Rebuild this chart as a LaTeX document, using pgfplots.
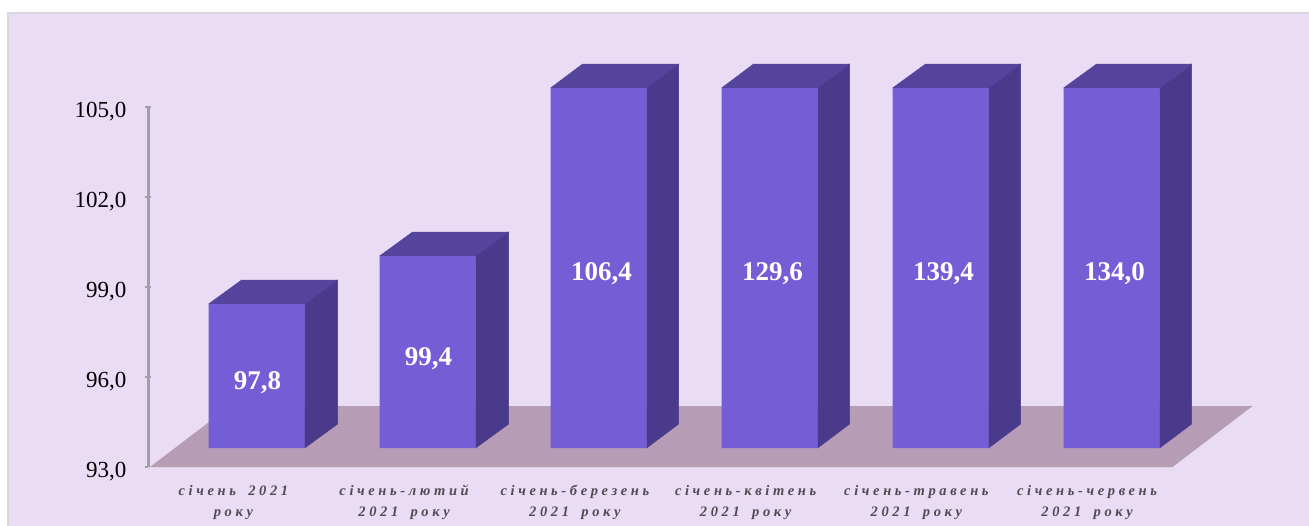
\documentclass[border=0pt]{standalone}
\usepackage{fontspec}
\setmainfont{Liberation Serif}
\newfontfamily\lab[LetterSpace=25,WordSpace=1.7]{Liberation Serif}
\usepackage{pgfplots}
\pgfplotsset{compat=1.18}
\definecolor{bg}{HTML}{EADCF5}
\definecolor{edge}{HTML}{DAD6DC}
\definecolor{front}{HTML}{755DD6}
\definecolor{side}{HTML}{4A3A8C}
\definecolor{topf}{HTML}{54449E}
\definecolor{floorc}{HTML}{B79CB6}
\definecolor{yax}{HTML}{A29EA6}
\definecolor{xlab}{HTML}{4F4B52}
\begin{document}
\begin{tikzpicture}
\useasboundingbox (0,0) rectangle (1309pt,526pt);
\fill[edge] (7pt,0) rectangle (1309pt,514pt);
\fill[bg] (9pt,0) rectangle (1309pt,512pt);
\begin{axis}[
  at={(148pt,59pt)}, anchor=south west,
  x=1pt, y=30pt,
  xmin=148, xmax=1172.5, ymin=93, ymax=105,
  clip=false,
  axis x line=bottom, axis y line=left,
  axis line style={-},
  x axis line style={draw=edge, line width=1.2pt},
  y axis line style={draw=yax, line width=3pt},
  ytick={93,96,99,102,105},
  y tick style={draw=yax, line width=1.6pt},
  y tick label style={font=\fontsize{23}{23}\selectfont, text=black, yshift=-5pt, xshift=-15pt,
     /pgf/number format/.cd, fixed, fixed zerofill, precision=1, use comma, assume math mode=true},
  major tick length=6pt,
  xtick={233.4,404.1,574.9,745.6,916.4,1087.1},
  xticklabels={{січень 2021\\року},{січень-лютий\\2021 року},{січень-березень\\2021 року},{січень-квітень\\2021 року},{січень-травень\\2021 року},{січень-червень\\2021 року}},
  x tick style={draw=none},
  minor xtick={148,318.8,489.5,660.2,831,1001.7,1172.5},
  minor x tick style={draw=edge, line width=1pt},
  minor tick length=6pt,
  x tick label style={font=\lab\fontsize{14.5}{21}\selectfont\bfseries\itshape, text=xlab, align=center, yshift=-11.5pt},
]
% floor
\addplot[fill=floorc, draw=none] coordinates {(150,93) (1172.5,93) (1252.5,95.03) (230,95.03) (150,93)};
% January
\addplot[fill=side, draw=side, line width=.5pt] coordinates {(304.5,93.63) (337.5,94.43) (337.5,99.23) (304.5,98.43) (304.5,93.63)};
\addplot[fill=topf, draw=topf, line width=.5pt] coordinates {(208.5,98.43) (304.5,98.43) (337.5,99.23) (241.5,99.23) (208.5,98.43)};
\addplot[fill=front, draw=none] coordinates {(208.5,93.63) (304.5,93.63) (304.5,98.43) (208.5,98.43) (208.5,93.63)};
% Jan-Feb
\addplot[fill=side, draw=side, line width=.5pt] coordinates {(475.5,93.63) (508.5,94.43) (508.5,100.83) (475.5,100.03) (475.5,93.63)};
\addplot[fill=topf, draw=topf, line width=.5pt] coordinates {(379.5,100.03) (475.5,100.03) (508.5,100.83) (412.5,100.83) (379.5,100.03)};
\addplot[fill=front, draw=none] coordinates {(379.5,93.63) (475.5,93.63) (475.5,100.03) (379.5,100.03) (379.5,93.63)};
% Jan-Mar
\addplot[fill=side, draw=side, line width=.5pt] coordinates {(646.5,93.63) (678.5,94.43) (678.5,106.43) (646.5,105.63) (646.5,93.63)};
\addplot[fill=topf, draw=topf, line width=.5pt] coordinates {(550.5,105.63) (646.5,105.63) (678.5,106.43) (582.5,106.43) (550.5,105.63)};
\addplot[fill=front, draw=none] coordinates {(550.5,93.63) (646.5,93.63) (646.5,105.63) (550.5,105.63) (550.5,93.63)};
% Jan-Apr
\addplot[fill=side, draw=side, line width=.5pt] coordinates {(817.5,93.63) (849.5,94.43) (849.5,106.43) (817.5,105.63) (817.5,93.63)};
\addplot[fill=topf, draw=topf, line width=.5pt] coordinates {(721.5,105.63) (817.5,105.63) (849.5,106.43) (753.5,106.43) (721.5,105.63)};
\addplot[fill=front, draw=none] coordinates {(721.5,93.63) (817.5,93.63) (817.5,105.63) (721.5,105.63) (721.5,93.63)};
% Jan-May
\addplot[fill=side, draw=side, line width=.5pt] coordinates {(988.5,93.63) (1020.5,94.43) (1020.5,106.43) (988.5,105.63) (988.5,93.63)};
\addplot[fill=topf, draw=topf, line width=.5pt] coordinates {(892.5,105.63) (988.5,105.63) (1020.5,106.43) (925.5,106.43) (892.5,105.63)};
\addplot[fill=front, draw=none] coordinates {(892.5,93.63) (988.5,93.63) (988.5,105.63) (892.5,105.63) (892.5,93.63)};
% Jan-Jun
\addplot[fill=side, draw=side, line width=.5pt] coordinates {(1159.5,93.63) (1191.5,94.43) (1191.5,106.43) (1159.5,105.63) (1159.5,93.63)};
\addplot[fill=topf, draw=topf, line width=.5pt] coordinates {(1063.5,105.63) (1159.5,105.63) (1191.5,106.43) (1096.5,106.43) (1063.5,105.63)};
\addplot[fill=front, draw=none] coordinates {(1063.5,93.63) (1159.5,93.63) (1159.5,105.63) (1063.5,105.63) (1063.5,93.63)};
% value labels
\addplot[draw=none, mark=none, point meta=explicit symbolic,
  nodes near coords, nodes near coords style={anchor=center, text=white, font=\fontsize{27}{27}\selectfont\bfseries}]
  table[meta=label] {
x y label
257.5 95.8 97,8
428.5 96.6 99,4
601.5 99.43 106,4
772.5 99.43 129,6
943.5 99.43 139,4
1114.5 99.43 134,0
};
\end{axis}
\end{tikzpicture}
\end{document}
